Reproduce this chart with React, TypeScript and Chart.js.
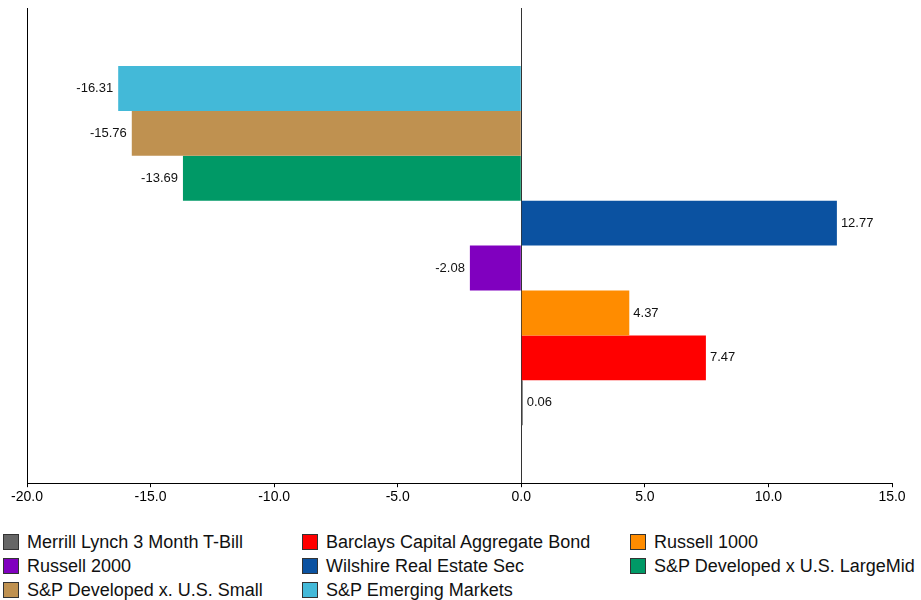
import React, { useEffect, useRef } from "react";
import { Chart, registerables } from "chart.js";

Chart.register(...registerables);

// Legend order (bottom bar first)
const seriesNames = [
  "Merrill Lynch 3 Month T-Bill",
  "Barclays Capital Aggregate Bond",
  "Russell 1000",
  "Russell 2000",
  "Wilshire Real Estate Sec",
  "S&P Developed x U.S. LargeMid",
  "S&P Developed x. U.S. Small",
  "S&P Emerging Markets",
];
const seriesValues = [0.06, 7.47, 4.37, -2.08, 12.77, -13.69, -15.76, -16.31];
const seriesColors = [
  "#666666",
  "#ff0000",
  "#ff8c00",
  "#8000bf",
  "#0b52a1",
  "#009966",
  "#bf9150",
  "#43b9d8",
];
const categories = [""];
const xMin = -20;
const xMax = 15;
const xStep = 5;

const FONT = '"Liberation Sans", Arial, Helvetica, sans-serif';

const valueLabelPlugin = {
  id: "valueLabels",
  afterDatasetsDraw(chart: any) {
    const ctx = chart.ctx;
    ctx.save();
    ctx.font = `13px ${FONT}`;
    ctx.fillStyle = "#111";
    ctx.textBaseline = "middle";
    chart.data.datasets.forEach((ds: any, i: number) => {
      const meta = chart.getDatasetMeta(i);
      const el = meta.data[0];
      if (!el) return;
      const v = ds.data[0] as number;
      if (v >= 0) {
        ctx.textAlign = "left";
        ctx.fillText(v.toFixed(2), el.x + 4, el.y);
      } else {
        ctx.textAlign = "right";
        ctx.fillText(v.toFixed(2), el.x - 5, el.y);
      }
    });
    ctx.restore();
  },
};

export default function App() {
  const canvasRef = useRef<HTMLCanvasElement | null>(null);

  useEffect(() => {
    if (!canvasRef.current) return;
    // datasets drawn top-to-bottom, so reverse legend order
    const order = seriesNames.map((_, i) => i).reverse();
    const chart = new Chart(canvasRef.current, {
      type: "bar",
      data: {
        labels: categories,
        datasets: order.map((i) => ({
          label: seriesNames[i],
          data: [seriesValues[i]],
          backgroundColor: seriesColors[i],
          borderWidth: 0,
          categoryPercentage: 0.756,
          barPercentage: 1,
        })),
      },
      options: {
        indexAxis: "y",
        responsive: false,
        animation: false,
        layout: { padding: { left: 19, right: 29, top: 8, bottom: 7 } },
        plugins: {
          legend: { display: false },
          tooltip: { enabled: false },
        },
        scales: {
          x: {
            type: "linear",
            min: xMin,
            max: xMax,
            ticks: {
              stepSize: xStep,
              color: "#000",
              font: { family: FONT, size: 14 },
              padding: 2,
              callback: (v: any) => Number(v).toFixed(1),
            },
            grid: {
              color: (c: any) =>
                c.tick && c.tick.value === 0 ? "#333" : "rgba(0,0,0,0)",
              tickColor: "#000",
              tickLength: 4,
              lineWidth: 1,
            },
            border: { display: true, color: "#000", width: 1 },
          },
          y: {
            type: "category",
            ticks: { display: false },
            grid: { display: false },
            border: { display: true, color: "#000", width: 1 },
          },
        },
      },
      plugins: [valueLabelPlugin],
    });
    return () => chart.destroy();
  }, []);

  const colLeft = [3, 302, 630];

  return (
    <div
      style={{
        position: "absolute",
        left: 0,
        top: 0,
        width: 921,
        height: 600,
        background: "#fff",
        overflow: "hidden",
      }}
    >
      <canvas ref={canvasRef} width={921} height={515} style={{ display: "block" }} />
      {seriesNames.map((name, i) => {
        const row = Math.floor(i / 3);
        const col = i % 3;
        return (
          <div
            key={name}
            style={{
              position: "absolute",
              left: colLeft[col],
              top: 530 + row * 24,
              height: 24,
              display: "flex",
              alignItems: "center",
              whiteSpace: "nowrap",
              fontFamily: FONT,
              fontSize: 18,
              color: "#111",
            }}
          >
            <span
              style={{
                display: "inline-block",
                width: 14,
                height: 14,
                background: seriesColors[i],
                border: "1px solid #333",
                marginRight: 8,
              }}
            />
            {name}
          </div>
        );
      })}
    </div>
  );
}
